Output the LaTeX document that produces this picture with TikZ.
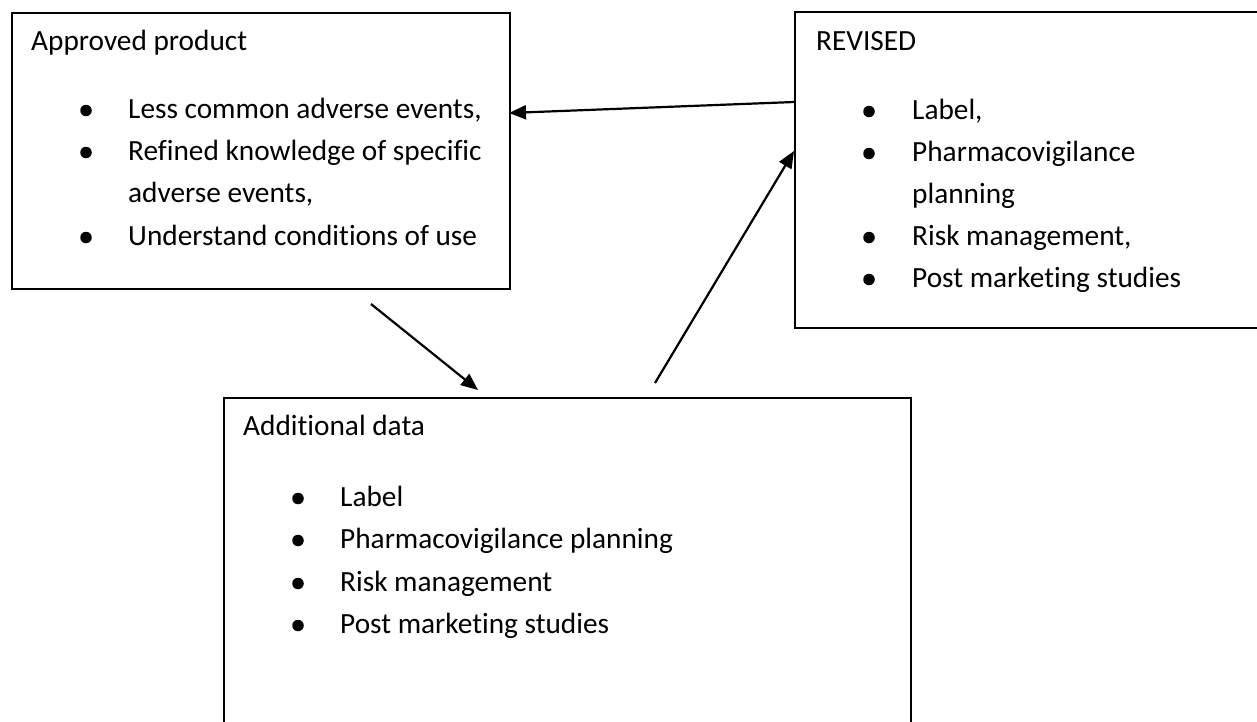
\documentclass[tikz,border=0pt]{standalone}
\usepackage{fontspec}
\setmainfont{Carlito}[Ligatures=NoCommon]
\usetikzlibrary{arrows.meta}
\begin{document}
\begin{tikzpicture}[x=1pt,y=-1pt,
  box/.style={draw, line width=2pt, inner sep=0pt, anchor=north west},
  txt/.style={anchor=base west, inner sep=0pt, font=\fontsize{29.3}{42}\selectfont},
  bul/.style={circle, fill, inner sep=0pt, minimum size=11.5pt},
  arr/.style={line width=2.2pt, -{Triangle[length=17pt,width=14pt]}}]
\path[use as bounding box, clip] (0,0) rectangle (1257,721);
\fill[white] (0,0) rectangle (1257,721);
% boxes
\node[box, minimum width=498pt, minimum height=276pt] (b1) at (11,12) {};
\node[box, minimum width=480pt, minimum height=316pt] (b2) at (794,11) {};
\node[box, minimum width=687pt, minimum height=360pt] (b3) at (223,397) {};
% box 1 texts
\node[txt] (t1) at (31,50) {Approved product};
\node[bul] (p11) at (86,110.5) {};
\node[txt] (t11) at (128,118) {Less common adverse events,};
\node[bul] (p12) at (86,152.5) {};
\node[txt] (t12) at (128,160) {Refined knowledge of specific};
\node[txt] (t13) at (128,202) {adverse events,};
\node[bul] (p13) at (86,237.5) {};
\node[txt] (t14) at (128,245) {Understand conditions of use};
% box 2 texts
\node[txt] (t2) at (816,50) {REVISED};
\node[bul] (p21) at (869,111.5) {};
\node[txt] (t21) at (912,119) {Label,};
\node[bul] (p22) at (869,153.5) {};
\node[txt] (t22) at (912,161) {Pharmacovigilance};
\node[txt] (t23) at (912,203) {planning};
\node[bul] (p23) at (869,237.5) {};
\node[txt] (t24) at (912,245) {Risk management,};
\node[bul] (p24) at (869,279.5) {};
\node[txt] (t25) at (912,287) {Post marketing studies};
% box 3 texts
\node[txt] (t3) at (243,435) {Additional data};
\node[bul] (p31) at (298,498.5) {};
\node[txt] (t31) at (340,506) {Label};
\node[bul] (p32) at (298,540.5) {};
\node[txt] (t32) at (340,548) {Pharmacovigilance planning};
\node[bul] (p33) at (298,583.5) {};
\node[txt] (t33) at (340,591) {Risk management};
\node[bul] (p34) at (298,625.5) {};
\node[txt] (t34) at (340,633) {Post marketing studies};
% arrows
\coordinate (a1s) at (794,102);
\coordinate (a1e) at (509,113);
\coordinate (a2s) at (371,304);
\coordinate (a2e) at (478,390);
\coordinate (a3s) at (655,383);
\coordinate (a3e) at (794,151);
\draw[arr] (a1s) -- (a1e);
\draw[arr] (a2s) -- (a2e);
\draw[arr] (a3s) -- (a3e);
\end{tikzpicture}
\end{document}
